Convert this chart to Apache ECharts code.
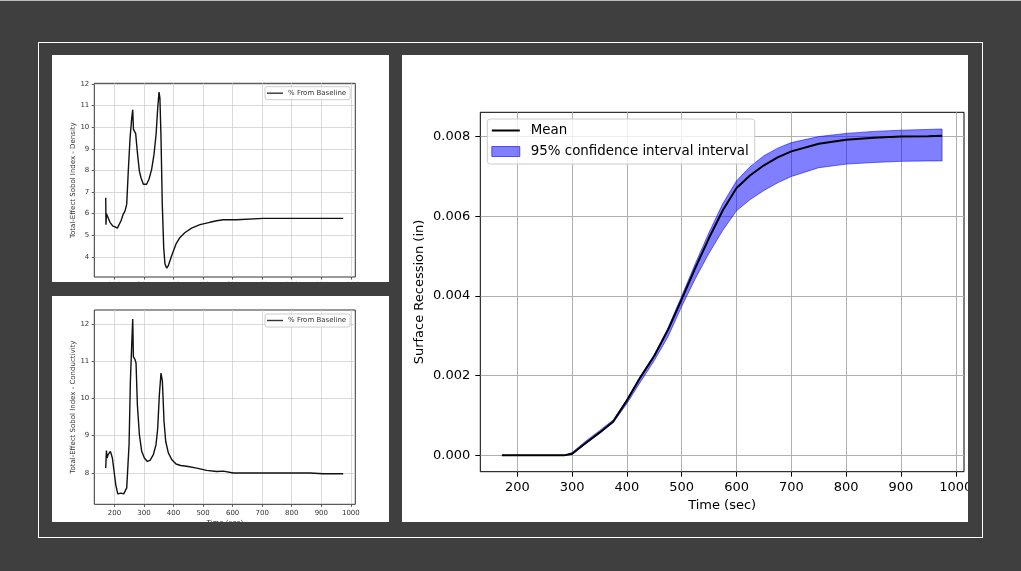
<!DOCTYPE html>
<html><head><meta charset="utf-8">
<script src="https://cdn.jsdelivr.net/npm/echarts@6/dist/echarts.min.js"></script>
<style>
html,body{margin:0;padding:0;width:1021px;height:571px;background:#3f3f3f;overflow:hidden;}
#topline{position:absolute;left:0;top:0;width:1021px;height:1px;background:#bcbcbc;}
#frame{position:absolute;left:38px;top:42px;width:945px;height:496px;border:1px solid #fff;box-sizing:border-box;}
.panel{position:absolute;background:#fff;}
</style></head><body>
<div id="topline"></div>
<div id="frame"></div>
<div id="tl" class="panel" style="left:52px;top:55px;width:337px;height:227px"></div>
<div id="bl" class="panel" style="left:52px;top:296px;width:337px;height:226px"></div>
<div id="rp" class="panel" style="left:402px;top:55px;width:566px;height:467px"></div>
<script>
// ---------- data ----------
const timeTicks = [200, 300, 400, 500, 600, 700, 800, 900, 1000];

const densityTime = [170.7, 171.5, 173, 176, 185, 195, 202, 210, 214, 222.5, 230, 236, 241.7, 247, 253, 258.6, 262, 264.5, 272, 276.6, 279, 284.5, 290, 298, 303.7, 309, 317, 326, 334, 341, 346.5, 351, 354, 357.7, 362, 366.8, 371, 377, 382.5, 394, 408.5, 422, 439, 461, 489.6, 523, 546, 568, 613.5, 703.7, 771, 974];
const densityVals = [6.74, 5.49, 6.0, 5.9, 5.6, 5.42, 5.39, 5.33, 5.3, 5.67, 5.98, 6.13, 6.44, 7.97, 9.5, 10.42, 10.8, 9.9, 9.7, 9.0, 8.66, 7.97, 7.66, 7.36, 7.31, 7.36, 7.59, 8.05, 8.74, 9.66, 10.88, 11.62, 11.34, 9.5, 6.44, 4.44, 3.68, 3.48, 3.6, 4.06, 4.6, 4.9, 5.13, 5.33, 5.49, 5.6, 5.67, 5.72, 5.72, 5.78, 5.78, 5.78];
const densityTicks = [4, 5, 6, 7, 8, 9, 10, 11, 12];

const condTime = [170.7, 173, 175.2, 178.6, 182, 186.5, 190, 193.2, 198.9, 204.5, 211.3, 216.9, 222.5, 227, 231.5, 237.2, 241.7, 246.2, 249.6, 254.1, 258.6, 262, 264.2, 266.5, 269.9, 273.2, 277.7, 284.5, 292.4, 301.4, 311.5, 320.6, 331.8, 340.8, 346.5, 352.1, 357.7, 362.3, 367.9, 373.5, 382.5, 393.8, 408.5, 424.2, 444.5, 478.3, 512.1, 545.9, 568.5, 602.3, 658.6, 771.3, 861.4, 906.5, 974.1];
const condVals = [8.13, 8.6, 8.4, 8.49, 8.45, 8.58, 8.6, 8.4, 8.04, 7.69, 7.44, 7.4, 7.46, 7.5, 7.44, 7.44, 7.6, 7.64, 8.76, 10.46, 11.44, 12.13, 11.12, 11.17, 11.04, 10.95, 9.83, 9.03, 8.58, 8.4, 8.31, 8.34, 8.49, 8.76, 9.2, 10.1, 10.68, 10.46, 9.38, 8.85, 8.54, 8.36, 8.24, 8.2, 8.18, 8.13, 8.07, 8.04, 8.05, 8.0, 8.0, 8.0, 8.0, 7.98, 7.98];
const condTicks = [8, 9, 10, 11, 12];

const recTime = [172, 200, 250, 285, 300, 325, 350, 375, 400, 425, 450, 475, 500, 525, 550, 575, 600, 625, 650, 675, 700, 750, 800, 850, 900, 950, 975];
const recMean = [0, 0, 0, 0, 0.00004, 0.00031, 0.00057, 0.00085, 0.00138, 0.00197, 0.0025, 0.00315, 0.00392, 0.00471, 0.00546, 0.00615, 0.00671, 0.00703, 0.00728, 0.00748, 0.00763, 0.00782, 0.00792, 0.00797, 0.0080, 0.00801, 0.00802];
const recUpper = [0, 0, 0, 0, 0.00007, 0.00036, 0.00062, 0.00089, 0.0014, 0.00198, 0.00253, 0.0032, 0.0040, 0.00482, 0.0056, 0.00632, 0.00689, 0.00725, 0.00752, 0.00771, 0.00785, 0.0080, 0.00808, 0.00813, 0.00816, 0.00818, 0.00819];
const recLower = [0, 0, 0, 0, 0.00002, 0.0003, 0.00055, 0.00082, 0.0013, 0.00185, 0.00238, 0.00298, 0.00374, 0.00444, 0.00508, 0.00565, 0.00614, 0.00642, 0.00665, 0.00684, 0.007, 0.00722, 0.00731, 0.00735, 0.00738, 0.00739, 0.00739];
const recTicks = [0, 0.002, 0.004, 0.006, 0.008];

// ---------- helpers ----------
const FONT = 'DejaVu Sans';
const pairs = (xs, ys) => xs.map((x, i) => [x, ys[i]]);

function smallChart(el, xs, ys, yTicks, yMin, yMax, yName, gridTop, gridH, legendTop) {
  const c = echarts.init(document.getElementById(el), null, {renderer: 'canvas'});
  c.setOption({
    animation: false,
    grid: {left: 42.3, top: gridTop, width: 261, height: gridH, show: true, borderColor: '#333', borderWidth: 1,
           backgroundColor: 'transparent', outerBoundsMode: 'none', containLabel: false},
    legend: {
      data: [{name: '% From Baseline', icon: 'path://M0,0H16V1.4H0Z', itemStyle: {color: '#333'}}],
      left: 213, top: legendTop, orient: 'vertical',
      padding: [3, 4, 3, 2], itemWidth: 16, itemHeight: 7,
      textStyle: {fontFamily: FONT, fontSize: 7, color: '#333'},
      backgroundColor: 'rgba(255,255,255,0.8)', borderColor: '#cccccc', borderWidth: 1, borderRadius: 2
    },
    xAxis: {
      type: 'value', min: 132, max: 1015,
      axisLine: {show: false, onZero: false},
      axisTick: {show: true, length: 2.6, customValues: timeTicks, lineStyle: {color: '#333', width: 0.8}},
      axisLabel: {customValues: timeTicks, fontFamily: FONT, fontSize: 7, color: '#333', margin: 5, formatter: v => String(v)},
      splitLine: {show: true, lineStyle: {color: '#d0d0d0', width: 0.8}},
      name: 'Time (sec)', nameLocation: 'middle', nameGap: 15, nameMoveOverlap: false,
      nameTextStyle: {fontFamily: FONT, fontSize: 7, color: '#333'}
    },
    yAxis: {
      type: 'value', min: yMin, max: yMax,
      axisLine: {show: false, onZero: false},
      axisTick: {show: true, length: 2.6, customValues: yTicks, lineStyle: {color: '#333', width: 0.8}},
      axisLabel: {customValues: yTicks, fontFamily: FONT, fontSize: 7, color: '#333', margin: 5, formatter: v => String(v)},
      splitLine: {show: true, lineStyle: {color: '#d0d0d0', width: 0.8}},
      name: yName, nameLocation: 'middle', nameGap: 17.5, nameMoveOverlap: false,
      nameTextStyle: {fontFamily: FONT, fontSize: 7, color: '#333'}
    },
    series: [{
      name: '% From Baseline', type: 'line', data: pairs(xs, ys),
      symbol: 'none', showSymbol: false, smooth: false, lineStyle: {color: '#111', width: 1.4}, itemStyle: {color: '#111'}
    }]
  });
}

smallChart('tl', densityTime, densityVals, densityTicks, 3.07, 12.03,
  'Total-Effect Sobol Index - Density', 28.3, 193.7, 31.7);
smallChart('bl', condTime, condVals, condTicks, 7.16, 12.37,
  'Total-Effect Sobol Index - Conductivity', 14, 194.3, 18);

// ---------- right chart ----------
const rc = echarts.init(document.getElementById('rp'), null, {renderer: 'canvas'});
const BAND = 'rgba(0,0,255,0.5)';
const BANDNAME = '95% confidence interval interval';
rc.setOption({
  animation: false,
  grid: {left: 78.3, top: 57.3, width: 483.7, height: 359.4, show: true, borderColor: '#000', borderWidth: 1,
         backgroundColor: 'transparent', outerBoundsMode: 'none', containLabel: false},
  legend: {
    data: [
      {name: 'Mean', icon: 'path://M0,0H28V2H0Z', itemStyle: {color: '#000'}},
      {name: BANDNAME, icon: 'rect', itemStyle: {color: BAND, borderColor: 'rgba(0,0,255,0.6)', borderWidth: 1}}
    ],
    left: 85.3, top: 64, orient: 'vertical',
    padding: [5, 6, 6, 4], itemWidth: 28, itemHeight: 10, itemGap: 8,
    textStyle: {fontFamily: FONT, fontSize: 13.4, color: '#000', padding: [0, 0, 0, 6]},
    backgroundColor: 'rgba(255,255,255,0.8)', borderColor: '#cccccc', borderWidth: 1, borderRadius: 3
  },
  xAxis: {
    type: 'value', min: 132.5, max: 1015,
    axisLine: {show: false, onZero: false},
    axisTick: {show: true, length: 5, customValues: timeTicks, lineStyle: {color: '#000', width: 1}},
    axisLabel: {customValues: timeTicks, fontFamily: FONT, fontSize: 13, color: '#000', margin: 9, formatter: v => String(v)},
    splitLine: {show: true, lineStyle: {color: '#b0b0b0', width: 1}},
    name: 'Time (sec)', nameLocation: 'middle', nameGap: 27, nameMoveOverlap: false,
    nameTextStyle: {fontFamily: FONT, fontSize: 13, color: '#000'}
  },
  yAxis: {
    type: 'value', min: -0.00041, max: 0.00861,
    axisLine: {show: false, onZero: false},
    axisTick: {show: true, length: 5, customValues: recTicks, lineStyle: {color: '#000', width: 1}},
    axisLabel: {customValues: recTicks, fontFamily: FONT, fontSize: 13, color: '#000', margin: 10,
      formatter: v => v.toFixed(3)},
    splitLine: {show: true, lineStyle: {color: '#b0b0b0', width: 1}},
    name: 'Surface Recession (in)', nameLocation: 'middle', nameGap: 54, nameMoveOverlap: false,
    nameTextStyle: {fontFamily: FONT, fontSize: 13, color: '#000'}
  },
  series: [
    {name: BANDNAME, type: 'custom', clip: true, z: 2,
     itemStyle: {color: BAND},
     data: [[recTime[0], recLower[0]]],
     renderItem: function (params, api) {
       if (params.dataIndex !== 0) return null;
       const pts = [];
       for (let i = 0; i < recTime.length; i++) pts.push(api.coord([recTime[i], recUpper[i]]));
       for (let i = recTime.length - 1; i >= 0; i--) pts.push(api.coord([recTime[i], recLower[i]]));
       return {type: 'polygon', shape: {points: pts}, style: {fill: BAND, stroke: 'rgba(0,0,255,0.55)', lineWidth: 1}};
     }},
    {name: 'Mean', type: 'line', data: pairs(recTime, recMean), symbol: 'none', showSymbol: false,
     smooth: false, lineStyle: {color: '#000', width: 2}, itemStyle: {color: '#000'}, z: 3}
  ]
});
</script>
</body></html>
